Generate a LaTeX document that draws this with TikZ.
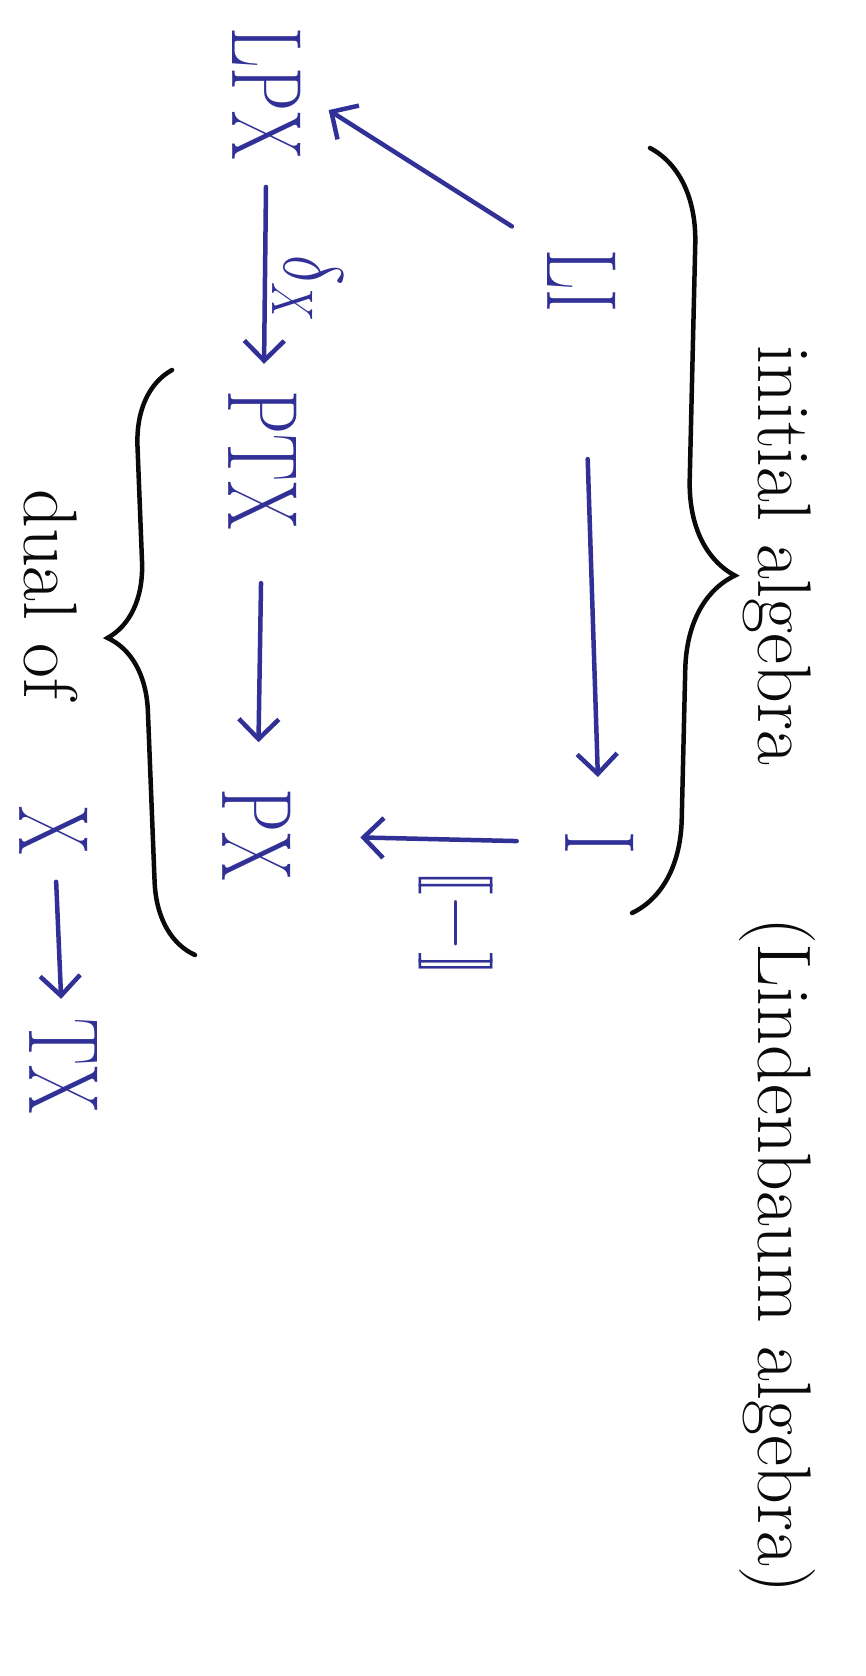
\documentclass[tikz,border=0pt]{standalone}
\usepackage{fix-cm}
\usepackage{xcolor}
\usepackage{amsmath}
\usepackage{tikz}
\usetikzlibrary{arrows.meta, decorations.pathreplacing}
\definecolor{penblue}{RGB}{48,48,150}
\definecolor{penblack}{RGB}{10,10,10}
\tikzset{
  obj/.style={text=penblue, font=\fontsize{100}{120}\selectfont,
    xscale=0.7, inner sep=2pt},
  lab/.style={text=penblue, inner sep=2pt},
  pentext/.style={text=penblack, font=\fontsize{76}{92}\selectfont, inner sep=0pt},
  mapto/.style={-{Straight Barb[length=20pt, width=40pt]}, line width=4.5pt,
    color=penblue, line cap=round, line join=round},
  curly/.style={decorate, line width=4.5pt, color=penblack, line cap=round}
}

\begin{document}
\begin{tikzpicture}[x=1pt, y=1pt, rotate=-90, transform shape]
  \useasboundingbox (0,0) rectangle (1676,866);

  % Initial algebra (top row)
  \node[obj] (LI) at (281,582) {LI};
  \node[obj] (I) at (843,600) {I};

  % Bottom row
  \node[obj] (LPX) at (94,267) {LPX};
  \node[obj] (PTX) at (460,263) {PTX};
  \node[obj] (PX) at (835,257) {PX};

  % Maps
  \draw[mapto, shorten <=145pt, shorten >=53pt] (LI) -- (I);
  \draw[mapto, shorten <=40pt, shorten >=30pt] (LI.south west) -- (LPX.north);
  \draw[mapto, shorten <=25pt, shorten >=25pt] (LPX) -- (PTX)
    node[lab, font=\fontsize{84}{100}\selectfont, xscale=0.75, pos=0.56, above=3pt] (delta) {$\delta_X$};
  \draw[mapto, shorten <=52pt, shorten >=45pt] (PTX) -- (PX);
  \draw[mapto, shorten <=47pt, shorten >=67pt] (I) -- (PX)
    node[lab, font=\fontsize{74}{88}\selectfont, pos=0.4, right=26pt] (sem) {$[\![-]\!]$};

  % Notes
  \node[pentext, anchor=base west] (init) at (345,758) {initial algebra\qquad(Lindenbaum algebra)};
  \node[pentext, anchor=base west] (dual) at (489,24) {dual of};
  \node[obj] (X) at (831,54) {X};
  \node[obj] (TX) at (1066,64) {TX};
  \draw[mapto, shorten <=25pt, shorten >=18pt] (X) -- (TX);

  % Braces
  \draw[curly, decoration={brace, amplitude=95pt, aspect=0.556}] (148,650) -- (913,632);
  \draw[curly, decoration={brace, amplitude=75pt, aspect=0.547}] (955,195) -- (370,172);
\end{tikzpicture}
\end{document}
